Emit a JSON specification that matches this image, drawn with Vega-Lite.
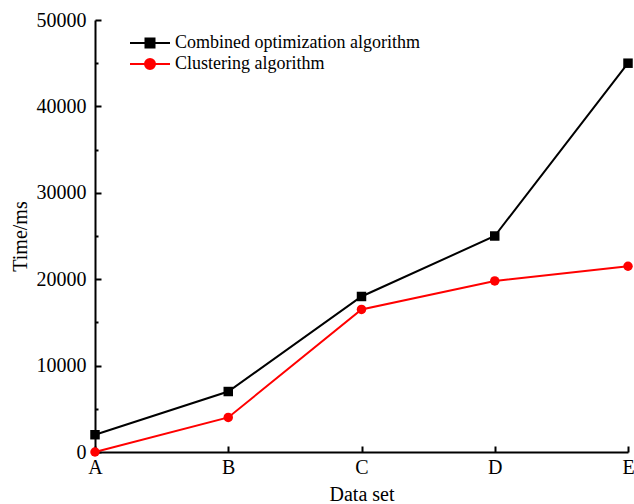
{
  "$schema": "https://vega.github.io/schema/vega-lite/v6.json",
  "width": 533,
  "height": 432,
  "autosize": "none",
  "padding": {"left": 95, "top": 20, "right": 6, "bottom": 52},
  "background": "white",
  "config": {
    "view": {"stroke": null},
    "font": "Liberation Serif",
    "axis": {"grid": false, "domainColor": "black", "domainWidth": 2, "tickColor": "black", "tickWidth": 2, "labelColor": "black", "titleColor": "black", "labelFont": "Liberation Serif", "titleFont": "Liberation Serif", "labelFontSize": 20, "titleFontSize": 20, "titleFontWeight": "normal"}
  },
  "data": {
    "values": [
      {"set": "A", "series": "Combined optimization algorithm", "time": 2000},
      {"set": "B", "series": "Combined optimization algorithm", "time": 7000},
      {"set": "C", "series": "Combined optimization algorithm", "time": 18000},
      {"set": "D", "series": "Combined optimization algorithm", "time": 25000},
      {"set": "E", "series": "Combined optimization algorithm", "time": 45000},
      {"set": "A", "series": "Clustering algorithm", "time": 0},
      {"set": "B", "series": "Clustering algorithm", "time": 4000},
      {"set": "C", "series": "Clustering algorithm", "time": 16500},
      {"set": "D", "series": "Clustering algorithm", "time": 19800},
      {"set": "E", "series": "Clustering algorithm", "time": 21500}
    ]
  },
  "encoding": {
    "x": {
      "field": "set", "type": "ordinal", "title": "Data set",
      "scale": {"type": "point", "padding": 0},
      "axis": {"labelAngle": 0, "tickSize": -6, "labelPadding": 11, "titlePadding": 7}
    },
    "y": {
      "field": "time", "type": "quantitative", "title": "Time/ms",
      "scale": {"domain": [0, 50000], "nice": false},
      "axis": {
        "values": [0, 5000, 10000, 15000, 20000, 25000, 30000, 35000, 40000, 45000, 50000],
        "labelExpr": "datum.value % 10000 === 0 ? datum.value : ''",
        "tickSize": {"condition": {"test": "datum.value % 10000 === 0", "value": -6}, "value": -3},
        "labelPadding": 15, "titlePadding": 6
      }
    },
    "color": {
      "field": "series", "type": "nominal",
      "scale": {"domain": ["Combined optimization algorithm", "Clustering algorithm"], "range": ["#000000", "#ff0000"]},
      "legend": {
        "title": null, "orient": "none", "legendX": 44, "legendY": 12,
        "labelFont": "Liberation Serif", "labelFontSize": 18, "labelColor": "black", "labelLimit": 400,
        "symbolSize": 400, "symbolStrokeWidth": 2, "labelOffset": 14, "rowPadding": 1,
        "encode": {
          "symbols": {
            "update": {
              "shape": {"signal": "datum.value === 'Combined optimization algorithm' ? 'M-2,0H2M-0.45,-0.45H0.45V0.45H-0.45Z' : 'M-2,0H2M0.5,0A0.5,0.5,0,1,1,-0.5,0A0.5,0.5,0,1,1,0.5,0'"},
              "fill": {"signal": "datum.value === 'Combined optimization algorithm' ? '#000000' : '#ff0000'"},
              "stroke": {"signal": "datum.value === 'Combined optimization algorithm' ? '#000000' : '#ff0000'"}
            }
          }
        }
      }
    }
  },
  "layer": [
    {"mark": {"type": "line", "strokeWidth": 2}},
    {
      "transform": [{"filter": "datum.series === 'Combined optimization algorithm'"}],
      "mark": {"type": "point", "filled": true, "opacity": 1, "size": 90, "shape": "square"}
    },
    {
      "transform": [{"filter": "datum.series === 'Clustering algorithm'"}],
      "mark": {"type": "point", "filled": true, "opacity": 1, "size": 90, "shape": "circle"}
    }
  ]
}
